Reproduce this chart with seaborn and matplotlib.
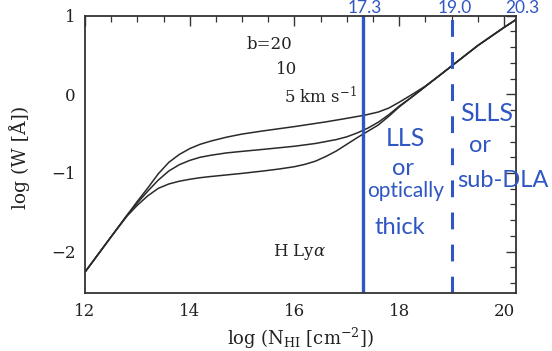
import matplotlib
matplotlib.use("Agg")
import matplotlib.pyplot as plt
import numpy as np
import pandas as pd
import seaborn as sns
from matplotlib.ticker import MultipleLocator

# Curve of growth for H Lyman-alpha, three Doppler parameters
logN_b20 = [12.0, 12.5, 12.8, 13.0, 13.2, 13.4, 13.6, 13.8, 14.0, 14.2, 14.4, 14.7, 15.0,
            15.4, 16.0, 16.6, 17.0, 17.34, 17.6, 17.8, 18.0, 18.25, 18.5, 18.75,
            19.0, 19.5, 20.0, 20.23]
logW_b20 = [-2.26, -1.81, -1.54, -1.36, -1.19, -1.01, -0.865, -0.765, -0.69, -0.635, -0.595, -0.545, -0.505,
            -0.465, -0.41, -0.35, -0.305, -0.265, -0.225, -0.175, -0.10, 0.0, 0.105, 0.23,
            0.36, 0.62, 0.85, 0.95]

logN_b10 = [12.0, 12.5, 12.8, 13.0, 13.2, 13.4, 13.6, 13.8, 14.0, 14.2, 14.4, 14.7, 15.0,
            15.4, 16.0, 16.4, 16.8, 17.0, 17.2, 17.4, 17.6, 17.8, 18.0, 18.25, 18.5, 18.75,
            19.0, 19.5, 20.0, 20.23]
logW_b10 = [-2.26, -1.81, -1.54, -1.38, -1.23, -1.09, -0.975, -0.895, -0.84, -0.80, -0.775, -0.745, -0.725,
            -0.70, -0.66, -0.625, -0.575, -0.54, -0.49, -0.43, -0.355, -0.26, -0.15, -0.03, 0.10, 0.23,
            0.36, 0.62, 0.85, 0.95]

logN_b5 = [12.0, 12.5, 12.8, 13.0, 13.2, 13.4, 13.6, 13.8, 14.0, 14.2, 14.4, 14.7, 15.0,
           15.4, 15.7, 16.0, 16.2, 16.4, 16.6, 16.8, 17.0, 17.2, 17.4, 17.6, 17.8, 18.0,
           18.25, 18.5, 18.75, 19.0, 19.5, 20.0, 20.23]
logW_b5 = [-2.26, -1.81, -1.55, -1.41, -1.29, -1.195, -1.14, -1.105, -1.08, -1.06, -1.045, -1.025, -1.005,
           -0.975, -0.95, -0.92, -0.89, -0.85, -0.79, -0.72, -0.635, -0.55, -0.47, -0.39, -0.28, -0.16,
           -0.03, 0.10, 0.23, 0.36, 0.62, 0.85, 0.95]

b_labels = ["b=20", "10", "5 km s$^{-1}$"]

# Column densities marking the absorber classes
logN_LLS = 17.3
logN_SLLS = 19.0
marker_labels = ["17.3", "19.0", "20.3"]

df = pd.concat([
    pd.DataFrame({"logN": logN_b20, "logW": logW_b20, "b": 20}),
    pd.DataFrame({"logN": logN_b10, "logW": logW_b10, "b": 10}),
    pd.DataFrame({"logN": logN_b5, "logW": logW_b5, "b": 5}),
], ignore_index=True)

sns.set_theme(style="white")
plt.rcParams["font.family"] = ["DejaVu Serif"]
plt.rcParams["mathtext.fontset"] = "dejavuserif"

W, H = 552, 351
fig = plt.figure(figsize=(W / 100, H / 100), dpi=100)
fig.patch.set_facecolor("white")
ax = fig.add_axes([85 / W, 1 - 293.3 / H, (516 - 85) / W, (293.3 - 15.7) / H])

ink = "#2f56c2"
frame = "#333333"
text_c = "#222222"

sns.lineplot(data=df, x="logN", y="logW", units="b", estimator=None,
             color="#2a2a2a", lw=1.1, ax=ax, legend=False, sort=False)

ax.set_xlim(12.0, 20.23)
ax.set_ylim(-2.53, 1.0)
ax.xaxis.set_major_locator(MultipleLocator(2))
ax.xaxis.set_minor_locator(MultipleLocator(0.5))
ax.yaxis.set_major_locator(MultipleLocator(1))
ax.yaxis.set_minor_locator(MultipleLocator(0.2))
ax.tick_params(which="both", direction="in", top=True, right=True,
               colors=frame, labelcolor=text_c, labelsize=12)
ax.tick_params(which="major", length=7, width=1.0, pad=7)
ax.tick_params(which="minor", length=4, width=0.9)
for s in ax.spines.values():
    s.set_color(frame)
    s.set_linewidth(1.3)

ax.set_xlabel(r"log (N$_{\mathregular{HI}}$ [cm$^{-2}$])", fontsize=13, color=text_c, labelpad=4)
ax.set_ylabel("log (W [Å])", fontsize=13.5, color=text_c)
ax.yaxis.set_label_coords(-0.128, 0.49)

# Doppler-parameter labels and line name
ax.text(15.53, 0.64, b_labels[0], ha="center", va="center", fontsize=12, color=text_c)
ax.text(15.84, 0.31, b_labels[1], ha="center", va="center", fontsize=12, color=text_c)
ax.text(15.80, -0.03, b_labels[2], ha="left", va="center", fontsize=12, color=text_c)
ax.text(16.10, -2.0, r"H Ly$\alpha$", ha="center", va="center", fontsize=12, color=text_c)

# Class boundaries in blue ink
ax.axvline(logN_LLS, color=ink, lw=2.4)
ax.axvline(logN_SLLS, color=ink, lw=2.2, linestyle=(0, (5.5, 5)))

hand = dict(color=ink, family=["Lato", "DejaVu Sans"], ha="center", va="center")
ax.text(18.11, -0.56, "LLS", fontsize=18, **hand)
ax.text(18.07, -0.945, "or", fontsize=17, **hand)
ax.text(18.13, -1.23, "optically", fontsize=15, **hand)
ax.text(18.01, -1.69, "thick", fontsize=17, **hand)
ax.text(19.67, -0.24, "SLLS", fontsize=18, **hand)
ax.text(19.54, -0.65, "or", fontsize=17, **hand)
ax.text(19.98, -1.09, "sub-DLA", fontsize=17, **hand)

for label, px in zip(marker_labels, [365, 455, 522]):
    fig.text(px / W, 1 - 13 / H, label, ha="center", va="baseline",
             color=ink, fontsize=12.5, family=["Lato", "DejaVu Sans"])

fig.savefig("out.png", dpi=100, facecolor="white")
